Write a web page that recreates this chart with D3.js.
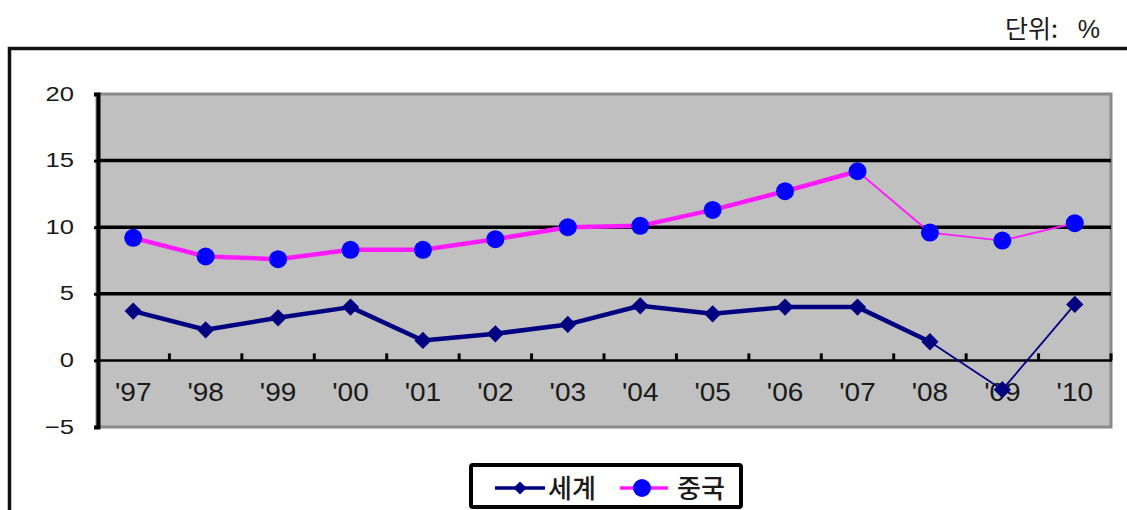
<!DOCTYPE html>
<html>
<head>
<meta charset="utf-8">
<script src="https://cdn.jsdelivr.net/npm/d3@7"></script>
<style>
  html, body { margin: 0; padding: 0; background: #fff; }
  svg { display: block; }
  .num { font-family: "Liberation Sans", Arial, sans-serif; fill: #1a1a1a; }
  .kr { font-family: "Noto Sans CJK KR", sans-serif; fill: #1a1a1a; }
</style>
</head>
<body>
<svg id="chart" width="1127" height="510"></svg>
<script>
// Years on the category axis
const years = ["'97", "'98", "'99", "'00", "'01", "'02", "'03", "'04", "'05", "'06", "'07", "'08", "'09", "'10"];
// Growth rate, %
const world = [3.7, 2.3, 3.2, 4.0, 1.5, 2.0, 2.7, 4.1, 3.5, 4.0, 4.0, 1.4, -2.2, 4.2];
const china = [9.2, 7.8, 7.6, 8.3, 8.3, 9.1, 10.0, 10.1, 11.3, 12.7, 14.2, 9.6, 9.0, 10.3];
const yTicks = [-5, 0, 5, 10, 15, 20];
const gridValues = [5, 10, 15];
const seriesNames = ["세계", "중국"];

const svg = d3.select("#chart");

// outer frame
svg.append("path")
  .attr("d", "M9.5,600 V48.5 H1140")
  .attr("fill", "none").attr("stroke", "#111").attr("stroke-width", 3.5);

// unit note
svg.append("text").attr("class", "kr")
  .attr("x", 1005).attr("y", 38).attr("font-size", 25).text("단위:");
svg.append("text").attr("class", "num")
  .attr("x", 1100).attr("y", 38).attr("text-anchor", "end")
  .attr("font-size", 25).text("%");

const plot = { left: 97, right: 1111, top: 94, bottom: 427 };

const x = d3.scaleBand().domain(years).range([plot.left, plot.right]);
const y = d3.scaleLinear().domain([-5, 20]).range([plot.bottom, plot.top]);

// plot background with grey border
svg.append("rect")
  .attr("x", plot.left).attr("y", y(20))
  .attr("width", plot.right - plot.left).attr("height", y(-5) - y(20))
  .attr("fill", "#c0c0c0").attr("stroke", "#8a8a8a").attr("stroke-width", 3);

// horizontal gridlines
svg.selectAll(".grid").data(gridValues).join("line")
  .attr("x1", plot.left).attr("x2", plot.right)
  .attr("y1", d => y(d)).attr("y2", d => y(d))
  .attr("stroke", "#000").attr("stroke-width", 3.5);

// zero line
svg.append("line")
  .attr("x1", plot.left).attr("x2", plot.right + 1)
  .attr("y1", y(0)).attr("y2", y(0))
  .attr("stroke", "#000").attr("stroke-width", 2.5);

// category ticks on the zero line (pointing up)
svg.selectAll(".xtick").data(years).join("line")
  .attr("x1", d => x(d) + x.bandwidth()).attr("x2", d => x(d) + x.bandwidth())
  .attr("y1", y(0)).attr("y2", y(0) - 7)
  .attr("stroke", "#000").attr("stroke-width", 3);

// y axis
const yAxis = d3.axisLeft(y).tickValues(yTicks).tickSize(4).tickPadding(0).tickFormat(d => d < 0 ? "\u2212" + Math.abs(d) : d);
const ya = svg.append("g").attr("transform", `translate(${plot.left + 1},0)`).call(yAxis);
ya.select(".domain").attr("stroke", "#000").attr("stroke-width", 4);
ya.selectAll(".tick line").attr("stroke", "#000").attr("stroke-width", 3);
ya.selectAll(".tick text")
  .attr("class", "num").attr("font-size", 21).attr("fill", "#1a1a1a")
  .attr("x", null).attr("dy", null)
  .attr("transform", "translate(-24,6) scale(1.22,1)");

// x labels inside plot below zero line
svg.selectAll(".xlab").data(years).join("text")
  .attr("class", "num")
  .attr("text-anchor", "middle")
  .attr("font-size", 25)
  .attr("transform", d => `translate(${x(d) + x.bandwidth() / 2},${y(0) + 41}) scale(1.12,1)`)
  .text(d => d);

const cx = i => x(years[i]) + x.bandwidth() / 2;

// line segments; later segments drawn thinner
function drawSeries(values, color, thinFrom, width) {
  const segs = d3.range(values.length - 1);
  svg.append("g").selectAll("line").data(segs).join("line")
    .attr("x1", i => cx(i)).attr("y1", i => y(values[i]))
    .attr("x2", i => cx(i + 1)).attr("y2", i => y(values[i + 1]))
    .attr("stroke", color)
    .attr("stroke-width", i => i >= thinFrom ? 1.8 : width)
    .attr("stroke-linecap", "round");
}

drawSeries(world, "#000080", 11, 4.5);
drawSeries(china, "#ff1aff", 10, 4.5);

const diamond = d3.symbol().type(d3.symbolDiamond2).size(190);

svg.append("g").selectAll("path").data(world).join("path")
  .attr("d", diamond)
  .attr("transform", (d, i) => `translate(${cx(i)},${y(d)})`)
  .attr("fill", "#000080");

svg.append("g").selectAll("circle").data(china).join("circle")
  .attr("cx", (d, i) => cx(i)).attr("cy", d => y(d))
  .attr("r", 9).attr("fill", "#0000ff");

// legend
const lg = svg.append("g");
lg.append("rect").attr("x", 471).attr("y", 465).attr("width", 270).attr("height", 42)
  .attr("fill", "#fff").attr("stroke", "#000").attr("stroke-width", 4).attr("rx", 2);
const ly = 488;
lg.append("line").attr("x1", 495).attr("x2", 545).attr("y1", ly).attr("y2", ly)
  .attr("stroke", "#000080").attr("stroke-width", 3.5);
lg.append("path").attr("d", d3.symbol().type(d3.symbolDiamond2).size(110)).attr("transform", `translate(520,${ly})`).attr("fill", "#000080");
lg.append("text").attr("class", "kr").attr("x", 548).attr("y", ly + 10).attr("font-size", 26).attr("font-weight", 500).text(seriesNames[0]);
lg.append("line").attr("x1", 620).attr("x2", 668).attr("y1", ly).attr("y2", ly)
  .attr("stroke", "#ff1aff").attr("stroke-width", 3.5);
lg.append("circle").attr("cx", 642).attr("cy", ly).attr("r", 9).attr("fill", "#0000ff");
lg.append("text").attr("class", "kr").attr("x", 677).attr("y", ly + 10).attr("font-size", 26).attr("font-weight", 500).text(seriesNames[1]);
</script>
</body>
</html>
